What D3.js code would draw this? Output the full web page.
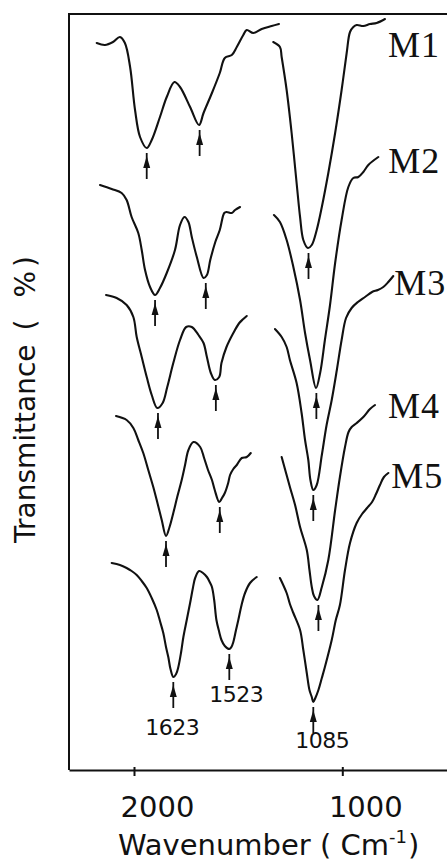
<!DOCTYPE html>
<html>
<head>
<meta charset="utf-8">
<script src="https://cdn.jsdelivr.net/npm/d3@7"></script>
<style>
  html, body { margin: 0; padding: 0; background: #fff; }
  svg { display: block; }
</style>
</head>
<body>
<svg id="chart" width="447" height="862"></svg>
<script>
// FTIR transmittance spectra of samples M1–M5, offset vertically.
const sampleNames = ["M1", "M2", "M3", "M4", "M5"];
const axisTicks = [2000, 1000];
const peakLabels = [1623, 1523, 1085];

// [wavenumber (cm-1), transmittance (stacked, %)] — upper band region
const m1Upper = [[2172,72.7],[2134,72.5],[2097,72.8],[2065,73.3],[2042,72.7],[2018,70.3],[1990,66.0],[1942,63.3],[1878,62.2],[1830,63.0],[1751,65.3],[1686,67.3],[1621,68.8],[1611,68.3],[1593,66.3],[1577,64.5],[1569,65.7],[1554,67.7],[1540,69.7],[1531,71.2],[1510,71.5],[1484,72.3],[1450,73.5],[1432,74.0],[1398,73.7],[1354,74.1],[1302,74.4],[1264,74.6]];
const m2Upper = [[2157,58.5],[2103,58.1],[2057,57.7],[2034,57.0],[2011,55.3],[1959,53.7],[1926,52.0],[1894,50.0],[1846,48.3],[1798,47.5],[1751,48.2],[1686,49.7],[1620,52.0],[1611,54.5],[1603,55.3],[1596,54.8],[1590,53.3],[1581,51.3],[1569,49.2],[1563,49.5],[1557,51.0],[1548,52.8],[1540,54.0],[1532,55.7],[1528,55.8],[1510,55.7],[1493,56.0],[1467,56.3]];
const m3Upper = [[2129,47.5],[2080,47.2],[2034,46.5],[2003,45.3],[1974,43.3],[1926,41.3],[1878,39.3],[1830,37.5],[1777,36.2],[1725,36.7],[1681,38.3],[1623,40.7],[1611,43.0],[1600,44.3],[1590,44.3],[1578,43.5],[1569,42.7],[1563,41.3],[1556,39.7],[1549,39.0],[1541,39.3],[1537,40.7],[1528,42.3],[1502,43.7],[1471,44.7],[1450,45.1],[1432,45.4]];
const m4Upper = [[2083,35.4],[2034,35.0],[2003,34.2],[1959,33.0],[1911,31.7],[1863,30.0],[1815,28.3],[1775,26.7],[1734,25.0],[1693,23.4],[1659,24.3],[1623,25.7],[1616,27.3],[1608,29.0],[1602,30.5],[1596,32.0],[1587,32.8],[1575,32.3],[1568,31.2],[1561,30.0],[1554,29.0],[1549,28.0],[1541,26.8],[1536,27.2],[1531,27.7],[1525,28.7],[1519,29.5],[1502,30.1],[1484,30.5],[1458,31.2],[1432,31.3],[1411,31.7]];
const m5Upper = [[2103,20.7],[2065,20.5],[2034,20.2],[2011,19.9],[1974,19.5],[1926,18.9],[1878,18.2],[1830,17.2],[1782,16.0],[1751,14.9],[1719,13.7],[1693,12.3],[1671,11.3],[1650,10.1],[1623,9.3],[1618,9.6],[1614,10.3],[1609,11.8],[1605,13.3],[1599,15.0],[1593,16.7],[1588,18.2],[1584,19.2],[1577,19.9],[1570,19.7],[1563,19.3],[1558,18.8],[1554,18.3],[1550,17.0],[1546,15.0],[1541,13.8],[1537,13.0],[1531,12.4],[1523,12.1],[1512,12.3],[1502,12.8],[1488,14.0],[1476,15.0],[1459,16.5],[1441,17.7],[1415,18.7],[1380,19.3]];

// lower band region
const m1Lower = [[1294,72.8],[1259,72.3],[1250,71.3],[1224,68.0],[1198,63.7],[1172,58.7],[1154,55.3],[1137,53.0],[1113,52.2],[1093,52.5],[1075,54.0],[1060,56.3],[1041,59.7],[1021,63.7],[1002,68.0],[979,71.7],[963,73.8],[947,74.3],[931,74.5],[899,74.4],[867,74.6],[835,74.7],[795,75.1]];
const m2Lower = [[1290,55.5],[1259,54.8],[1224,53.0],[1189,50.3],[1154,47.0],[1128,43.7],[1102,41.0],[1077,38.2],[1065,39.7],[1051,43.0],[1036,46.5],[1021,50.7],[1002,55.0],[971,58.3],[947,59.2],[923,59.3],[899,59.8],[875,60.5],[827,61.3]];
const m3Lower = [[1285,44.1],[1250,43.3],[1224,42.3],[1207,41.0],[1172,38.7],[1146,35.7],[1128,33.0],[1111,31.0],[1100,29.0],[1085,28.0],[1075,28.5],[1060,31.5],[1046,34.5],[1031,37.0],[1016,40.0],[1002,43.0],[982,45.2],[955,46.2],[925,46.8],[891,47.3],[857,47.8],[829,48.0],[803,48.3],[779,48.8],[755,49.4]];
const m4Lower = [[1250,31.3],[1207,28.3],[1180,26.5],[1154,24.3],[1119,22.0],[1105,20.0],[1093,18.3],[1083,17.4],[1073,17.0],[1060,18.3],[1041,21.0],[1021,26.0],[1007,29.3],[987,32.3],[970,33.8],[955,34.3],[931,34.7],[899,35.3],[867,36.1],[843,36.5]];
const m5Lower = [[1259,19.2],[1224,17.7],[1207,16.6],[1189,15.7],[1154,14.0],[1137,12.0],[1119,9.7],[1105,8.0],[1093,7.3],[1085,6.8],[1079,7.2],[1070,8.0],[1060,9.2],[1051,10.3],[1031,13.0],[1019,15.0],[1007,16.5],[987,20.0],[963,22.7],[931,24.7],[905,25.6],[881,26.2],[857,26.8],[838,27.6],[819,28.5],[800,29.3],[779,29.7]];

// marked absorption minima: [wavenumber, transmittance]
const m1Peaks = [[1878,62.2],[1576,64.5],[1110,52.2]];
const m2Peaks = [[1798,47.5],[1565,49.2],[1076,38.2]];
const m3Peaks = [[1770,36.2],[1547,39.0],[1085,28.0]];
const m4Peaks = [[1693,23.4],[1540,26.8],[1070,17.0]];
const m5Peaks = [[peakLabels[0],9.3],[peakLabels[1],12.1],[peakLabels[2],6.8]];

const spectra = sampleNames.map((name, i) => ({
  name,
  segments: [[m1Upper, m2Upper, m3Upper, m4Upper, m5Upper][i],
             [m1Lower, m2Lower, m3Lower, m4Lower, m5Lower][i]],
  peaks: [m1Peaks, m2Peaks, m3Peaks, m4Peaks, m5Peaks][i]
}));

// ---- layout ----
const plot = { left: 69, top: 14, bottom: 770 };
const ink = "#111";
// sample-name offsets from the end of each lower-band trace
const nameOffsets = [[3, 38], [10, 16], [1, 19], [13, 13], [3, 15]];
// wavenumber-label offsets below the labelled arrows
const peakTextOffsets = [[-1, 58], [7, 53], [9, 46]];

const svg = d3.select("#chart");

// The wavenumber axis is drawn piecewise: the labelled bands are pinned
// to their positions while the 2000 / 1000 ticks keep theirs.
const x = d3.scaleLinear()
  .domain([2300, axisTicks[0], peakLabels[0], peakLabels[1], peakLabels[2], axisTicks[1], 450])
  .range([plot.left, 134, 173.3, 229.3, 313.3, 342.3, 456.8]);
const y = d3.scaleLinear().domain([0, 75.6]).range([plot.bottom, plot.top]);

// frame (left, top, right)
const xr = x.range();
svg.append("path")
  .attr("d", `M${xr[0]},${plot.bottom}V${plot.top}H${xr[xr.length - 1]}V${plot.bottom}`)
  .attr("fill", "none").attr("stroke", ink).attr("stroke-width", 2);

// bottom axis
const axis = svg.append("g")
  .attr("transform", `translate(0,${plot.bottom})`)
  .call(d3.axisBottom(x).tickValues(axisTicks).tickSizeOuter(0).tickFormat(d3.format("d")));
axis.select(".domain").attr("stroke", ink).attr("stroke-width", 2);
axis.selectAll(".tick line").attr("stroke", ink).attr("stroke-width", 2).attr("y1", -3).attr("y2", 6);
axis.selectAll(".tick text")
  .attr("fill", ink).attr("y", 47).attr("dy", 0).attr("dx", 23)
  .style("font-family", "'DejaVu Sans', sans-serif").style("font-size", "29px");

// spectra
const line = d3.line()
  .x(d => x(d[0])).y(d => y(d[1]))
  .curve(d3.curveCatmullRom.alpha(0.5));

const g = svg.append("g");
spectra.forEach(s => {
  s.segments.forEach(seg => {
    g.append("path").attr("d", line(seg))
      .attr("fill", "none").attr("stroke", ink)
      .attr("stroke-width", 2.1).attr("stroke-linejoin", "round").attr("stroke-linecap", "round");
  });

  // arrows under the absorption minima
  s.peaks.forEach(p => {
    const px = x(p[0]);
    const top = y(p[1]) + 5;
    g.append("line").attr("x1", px).attr("x2", px).attr("y1", top).attr("y2", top + 26)
      .attr("stroke", ink).attr("stroke-width", 1.8);
    g.append("path")
      .attr("d", `M${px},${top + 3}L${px - 3.5},${top + 15}L${px + 3.5},${top + 15}Z`)
      .attr("fill", ink);
  });

  // sample name at the end of the lower-band trace
  const i = sampleNames.indexOf(s.name);
  const last = s.segments[1][s.segments[1].length - 1];
  svg.append("text")
    .attr("x", x(last[0]) + nameOffsets[i][0])
    .attr("y", y(last[1]) + nameOffsets[i][1])
    .attr("fill", ink)
    .style("font-family", "'Liberation Serif', 'Times New Roman', serif")
    .style("font-size", "36px")
    .style("letter-spacing", "1px")
    .text(s.name);
});

// wavenumber labels for the bottom sample
m5Peaks.forEach((p, i) => {
  svg.append("text")
    .attr("x", x(p[0]) + peakTextOffsets[i][0])
    .attr("y", y(p[1]) + peakTextOffsets[i][1])
    .attr("text-anchor", "middle")
    .attr("fill", ink)
    .style("font-family", "'DejaVu Sans', sans-serif")
    .style("font-size", "22px")
    .style("letter-spacing", "-0.5px")
    .text(peakLabels[i]);
});

// axis titles
const xt = svg.append("text")
  .attr("x", 118).attr("y", 855)
  .attr("fill", ink)
  .style("font-family", "'DejaVu Sans', sans-serif")
  .style("font-size", "29px");
xt.append("tspan").text("Wavenumber ( Cm");
xt.append("tspan").attr("dy", -12).style("font-size", "18px").text("-1");
xt.append("tspan").attr("dy", 12).attr("dx", 1).text(")");

const yt = svg.append("text")
  .attr("transform", "translate(35,543) rotate(-90)")
  .attr("fill", ink)
  .style("font-family", "'DejaVu Sans', sans-serif")
  .style("font-size", "28px");
yt.append("tspan").text("Transmittance");
yt.append("tspan").attr("dx", 14).text("(");
yt.append("tspan").attr("dx", 22).text("%");
yt.append("tspan").attr("dx", 4).text(")");
</script>
</body>
</html>
